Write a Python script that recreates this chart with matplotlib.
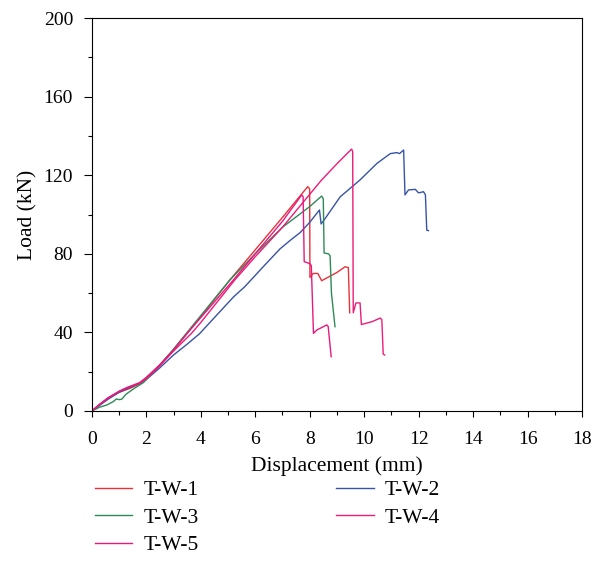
import numpy as np
import matplotlib.pyplot as plt
from matplotlib.ticker import MultipleLocator

# T-W-1
x1 = [0, 0.3, 0.6, 1.0, 1.4, 1.7, 2.0, 2.5, 3.0, 3.5, 4.0, 5.07, 6.0, 7.0, 7.93, 8.0,
      8.01, 8.13, 8.3, 8.44, 9.0, 9.3, 9.42, 9.47]
y1 = [0, 3.5, 6.5, 9.5, 11.5, 13.5, 17, 23.5, 31, 39.5, 48, 66.7, 82, 98.5, 114.2, 113,
      68, 70, 70, 66.3, 70.5, 73.4, 73, 50]

# T-W-2
x2 = [0, 0.3, 0.6, 1.0, 1.4, 1.76, 2.0, 2.5, 3.0, 3.5, 3.97, 4.2, 5.2, 5.62, 6.3, 6.91,
      7.3, 7.65, 8.0, 8.36, 8.42, 8.57, 9.12, 9.85, 10.47, 10.96, 11.2, 11.3, 11.45,
      11.5, 11.63, 11.88, 12.0, 12.18, 12.25, 12.3, 12.36]
y2 = [0, 3, 6, 9.5, 12, 14, 16, 22, 28.5, 34, 39.5, 43, 58, 63.3, 73.5, 82.5,
      87, 90.8, 96, 102.3, 95.2, 98, 109, 117.6, 126, 131, 131.5, 131, 132.8,
      110, 112.5, 112.8, 111, 111.6, 110, 92, 91.8]

# T-W-3
x3 = [0, 0.3, 0.54, 0.78, 0.9, 1.0, 1.1, 1.26, 1.58, 1.9, 2.5, 3.0, 3.5, 4.0, 5.07,
      6.0, 7.0, 8.0, 8.44, 8.5, 8.53, 8.69, 8.75, 8.8, 8.93]
y3 = [0, 2, 3, 4.7, 6.1, 5.8, 6, 8.6, 11.7, 14.5, 23.5, 31.5, 40, 48.5, 66.7,
      80, 93.5, 104, 109.4, 108, 80.4, 80, 79, 60, 42.9]

# T-W-4
x4 = [0, 0.3, 0.6, 1.0, 1.3, 1.58, 1.76, 2.0, 2.5, 3.0, 3.66, 4.0, 5.25, 6.0, 7.0,
      8.44, 9.0, 9.54, 9.58, 9.6, 9.7, 9.85, 9.9, 10.3, 10.59, 10.65, 10.7, 10.75]
y4 = [0, 3.5, 6.5, 10, 12, 13.2, 14.1, 16.5, 23, 30.5, 39.5, 45, 66.7, 78.5, 93.5,
      117.6, 125.8, 133.3, 132, 50, 55, 55, 44, 45.5, 47.3, 46.5, 29, 28.5]

# T-W-5
x5 = [0, 0.3, 0.6, 1.0, 1.4, 1.76, 2.0, 2.5, 3.0, 3.5, 4.0, 5.2, 6.0, 7.0, 7.71,
      7.76, 7.8, 8.01, 8.06, 8.14, 8.26, 8.63, 8.68, 8.79]
y5 = [0, 3.5, 6.8, 10, 12.5, 14.5, 17, 23.5, 31, 39.5, 47.5, 66.7, 80, 96.5, 110,
      109, 76, 75, 74, 39.5, 41.2, 43.8, 43, 27.6]

plt.rcParams['font.family'] = ['Liberation Serif', 'DejaVu Serif']

fig = plt.figure(figsize=(6, 5.81), dpi=100)
ax = fig.add_axes([0.153, 0.2926, 0.817, 0.6764])

l1, = ax.plot(x1, y1, color='#e9313a', lw=1.0, label='T-W-1')
l2, = ax.plot(x2, y2, color='#3853a4', lw=1.0, label='T-W-2')
l3, = ax.plot(x3, y3, color='#2e8b57', lw=1.0, label='T-W-3')
l4, = ax.plot(x4, y4, color='#ec1c78', lw=1.0, label='T-W-4')
l5, = ax.plot(x5, y5, color='#e6197f', lw=1.0, label='T-W-5')

ax.set_xlim(0, 18)
ax.set_ylim(0, 200)
ax.xaxis.set_major_locator(MultipleLocator(2))
ax.xaxis.set_minor_locator(MultipleLocator(1))
ax.yaxis.set_major_locator(MultipleLocator(40))
ax.yaxis.set_minor_locator(MultipleLocator(20))
ax.tick_params(axis='both', which='both', direction='out', labelsize=14, width=0.8)
ax.tick_params(axis='x', which='major', length=4.5, pad=10)
ax.tick_params(axis='x', which='minor', length=3)
ax.tick_params(axis='y', which='major', length=6, pad=7.5)
ax.tick_params(axis='y', which='minor', length=3)
for s in ax.spines.values():
    s.set_linewidth(0.8)

ax.set_xlabel('Displacement (mm)', fontsize=15.5, labelpad=6)
ax.set_ylabel('Load (kN)', fontsize=15.5, labelpad=4.5)

# row-wise order: col 1 = 1,3,5 ; col 2 = 2,4
fig.legend([l1, l3, l5, l2, l4], ['T-W-1', 'T-W-3', 'T-W-5', 'T-W-2', 'T-W-4'],
           loc='upper left', bbox_to_anchor=(0.14, 0.192), ncol=2,
           frameon=False, fontsize=15.5, handlelength=1.75, handletextpad=0.5,
           columnspacing=6.4, labelspacing=0.35, borderpad=0)

fig.savefig('out.png', dpi=100)
